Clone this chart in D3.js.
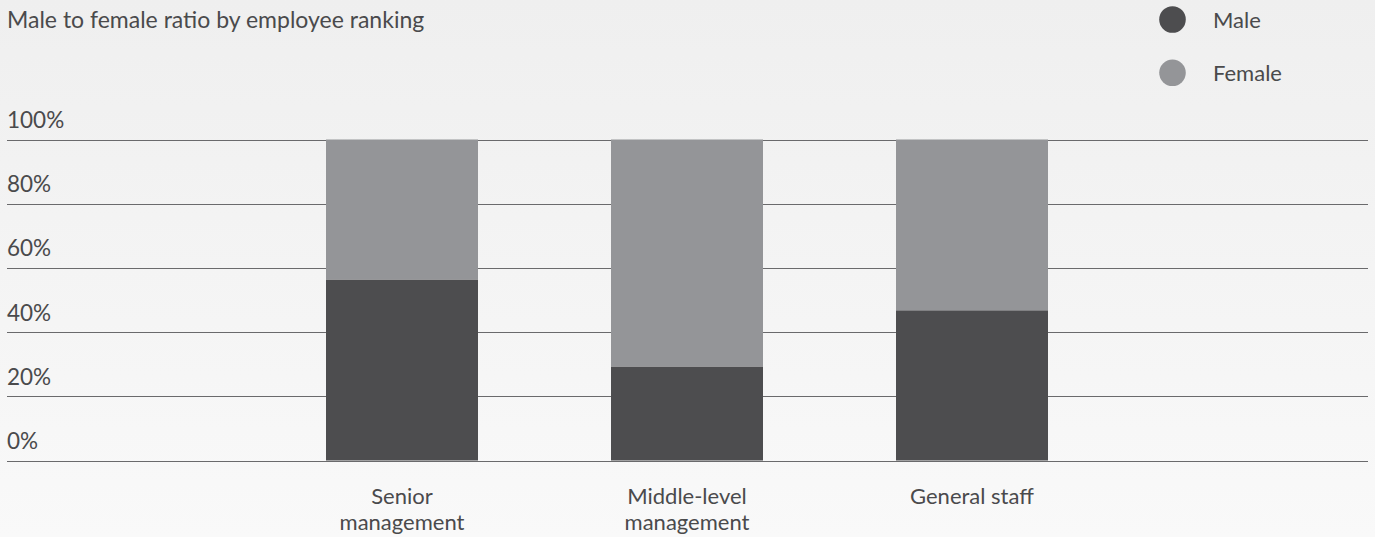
<!DOCTYPE html>
<html>
<head>
<meta charset="utf-8">
<script src="https://cdn.jsdelivr.net/npm/d3@7"></script>
<style>
  html, body { margin: 0; padding: 0; }
  body { width: 1375px; height: 537px; overflow: hidden; }
  text { font-family: Lato, "Noto Sans", sans-serif; fill: #4a4a4c; }
</style>
</head>
<body>
<svg id="chart" width="1375" height="537"></svg>
<script>
const title = "Male to female ratio by employee ranking";
const categories = [["Senior", "management"], ["Middle-level", "management"], ["General staff"]];
const categoryKeys = ["Senior management", "Middle-level management", "General staff"];
const seriesNames = ["Male", "Female"];
const maleValues = [56.4, 29.3, 46.8];
const femaleValues = [43.6, 70.7, 53.2];
const tickValues = [0, 20, 40, 60, 80, 100];
const tickLabels = ["0%", "20%", "40%", "60%", "80%", "100%"];
const colors = ["#4d4d4f", "#949598"];

const svg = d3.select("#chart");
const W = 1375, H = 537;

// background gradient
const defs = svg.append("defs");
const grad = defs.append("linearGradient").attr("id", "bg").attr("x1", 0).attr("y1", 0).attr("x2", 0).attr("y2", 1);
grad.append("stop").attr("offset", "0%").attr("stop-color", "#efefef");
grad.append("stop").attr("offset", "100%").attr("stop-color", "#f9f9f9");
svg.append("rect").attr("width", W).attr("height", H).attr("fill", "url(#bg)");

const y = d3.scaleLinear().domain([0, 100]).range([460.5, 139.5]);
const x = d3.scaleBand().domain(categoryKeys).range([183.5, 1190.5]).paddingInner(0.4667).paddingOuter(0.5);

// gridlines
svg.append("g").selectAll("line").data(tickValues).join("line")
  .attr("x1", 7).attr("x2", 1368)
  .attr("y1", d => Math.round(y(d)) + 0.5).attr("y2", d => Math.round(y(d)) + 0.5)
  .attr("stroke", "#6a6a6c").attr("stroke-width", 1);

// tick labels
svg.append("g").selectAll("text").data(tickValues).join("text")
  .attr("x", 7).attr("y", d => y(d) - 11.5)
  .attr("font-size", 22.5)
  .text((d, i) => tickLabels[i]);

// stacked bars
const rows = categoryKeys.map((k, i) => ({ key: k, Male: maleValues[i], Female: femaleValues[i] }));
const stack = d3.stack().keys(seriesNames)(rows);
svg.append("g").selectAll("g").data(stack).join("g")
  .attr("fill", (d, i) => colors[i])
  .selectAll("rect").data(d => d).join("rect")
  .attr("x", d => x(d.data.key))
  .attr("width", x.bandwidth())
  .attr("y", d => y(d[1]))
  .attr("height", d => y(d[0]) - y(d[1]));

// category labels
const xl = svg.append("g").selectAll("text").data(categoryKeys).join("text")
  .attr("text-anchor", "middle")
  .attr("font-size", 22)
  .attr("x", d => x(d) + x.bandwidth() / 2)
  .attr("y", 504);
xl.each(function(d, i) {
  const t = d3.select(this);
  categories[i].forEach((line, j) => {
    t.append("tspan").attr("x", x(d) + x.bandwidth() / 2).attr("dy", j === 0 ? 0 : 26).text(line);
  });
});

// title
svg.append("text").attr("x", 7).attr("y", 27.5).attr("font-size", 23).text(title);

// legend
const legend = svg.append("g").selectAll("g").data(seriesNames).join("g")
  .attr("transform", (d, i) => `translate(1172.5, ${19.5 + i * 53.3})`);
legend.append("circle").attr("r", 13.3).attr("fill", (d, i) => colors[i]);
legend.append("text").attr("x", 40.5).attr("y", 8).attr("font-size", 22).text(d => d);
</script>
</body>
</html>
